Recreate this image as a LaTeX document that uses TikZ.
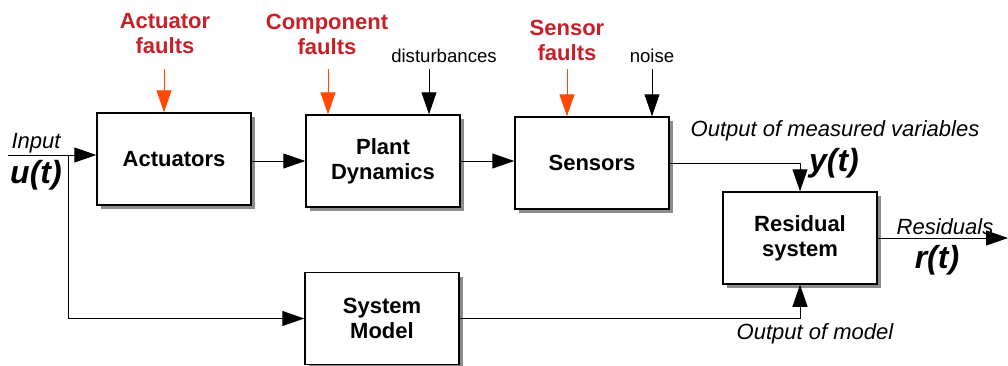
\documentclass[tikz,border=0pt]{standalone}
\usepackage{fontspec}
\setmainfont{Liberation Sans}
\usetikzlibrary{arrows.meta,shadows}

\definecolor{faultred}{RGB}{200,32,40}
\definecolor{faultorange}{RGB}{255,72,0}

\tikzset{
	blockbox/.style={draw, line width=0.75pt, fill=white, minimum width=77pt, minimum height=46pt, align=center,
		font=\bfseries\fontsize{11}{12.5}\selectfont,
		drop shadow={shadow xshift=2pt, shadow yshift=-2pt, fill=black!45, opacity=1}},
	flow/.style={line width=0.5pt, -{Triangle[length=11pt,width=7.5pt]}},
	faultlabel/.style={align=center, text=faultred, font=\bfseries\fontsize{11}{12.5}\selectfont},
	plainlabel/.style={font=\fontsize{9.3}{11}\selectfont},
	siglabel/.style={font=\itshape\fontsize{11}{12.5}\selectfont},
	bigsig/.style={font=\bfseries\itshape\fontsize{16}{18}\selectfont}
}

\begin{document}
\begin{tikzpicture}[x=0.5pt,y=-0.5pt]
	\useasboundingbox (0,0) rectangle (1008,365);

	% Bloques
	\node [blockbox] (act) at (174,159) {Actuators};
	\node [blockbox] (plant) at (383,161) {Plant\\Dynamics};
	\node [blockbox] (sens) at (592,163) {Sensors};
	\node [blockbox] (resid) at (800,238) {Residual\\system};
	\node [blockbox] (model) at (382,318.5) {System\\Model};

	% Entradas superiores
	\node [faultlabel] (actf) at (165,34) {Actuator\\faults};
	\node [faultlabel] (compf) at (327,34) {Component\\faults};
	\node [faultlabel] (sensf) at (567,40) {Sensor\\faults};
	\node [plainlabel] (dist) at (444,56) {disturbances};
	\node [plainlabel] (noise) at (652,56) {noise};
	\coordinate (actin) at (164,69);
	\coordinate (compin) at (328,69);
	\coordinate (distin) at (429,69);
	\coordinate (sensin) at (567,69);
	\coordinate (noisein) at (652,69);
	\draw [flow, draw=faultorange, fill=faultorange] (actin) -- (actin |- act.north);
	\draw [flow, draw=faultorange, fill=faultorange] (compin) -- (compin |- plant.north);
	\draw [flow] (distin) -- (distin |- plant.north);
	\draw [flow, draw=faultorange, fill=faultorange] (sensin) -- (sensin |- sens.north);
	\draw [flow] (noisein) -- (noisein |- sens.north);

	% Entrada u(t)
	\coordinate (in) at (8,155);
	\coordinate (branch) at (68,155);
	\node [siglabel] (inlbl) at (36,143) {Input};
	\node [bigsig] (ulbl) at (36,175) {u(t)};
	\draw [flow] (in) -- (in -| act.west);
	\draw [flow] (branch) |- (model.west);

	% Cadena principal
	\draw [flow] (act.east |- plant.west) -- (plant.west);
	\draw [flow] (plant.east) -- (plant.east -| sens.west);
	\draw [flow] (sens.east) -| (resid.north);
	\draw [flow] (model.east) -| (resid.south);

	% Salida r(t)
	\coordinate (out) at (1008,238);
	\draw [flow] (resid.east) -- (out);

	% Etiquetas
	\node [siglabel] (ylbl) at (835,131) {Output of measured variables};
	\node [bigsig] (ysig) at (834,163) {y(t)};
	\node [siglabel] (rlbl) at (945,227) {Residuals};
	\node [bigsig] (rsig) at (937,260) {r(t)};
	\node [siglabel] (mlbl) at (815,334) {Output of model};
\end{tikzpicture}
\end{document}
